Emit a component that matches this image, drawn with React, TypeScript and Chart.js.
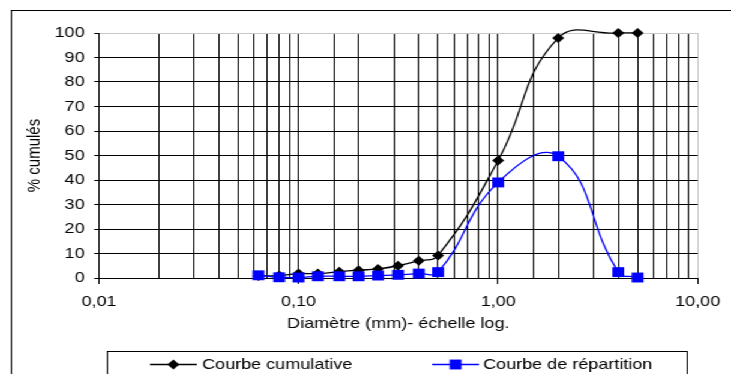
import React, { useEffect, useRef } from 'react';
import { Chart, registerables } from 'chart.js';

Chart.register(...registerables);

// ---- data ----
const diametres = [0.063, 0.08, 0.1, 0.125, 0.16, 0.2, 0.25, 0.315, 0.4, 0.5, 1, 2, 4, 5];
const cumulative = [0.8, 1, 1.8, 1.8, 2.6, 3.2, 3.7, 5, 7, 9.2, 48, 98, 100, 100];
const repartition = [1.1, 0.3, 0.2, 0.7, 0.7, 0.7, 1, 1.3, 1.8, 2.4, 39, 49.7, 2.4, 0.2];
const seriesNames = ['Courbe cumulative', 'Courbe de répartition'];
const xTitle = 'Diamètre (mm)- échelle log.';
const yTitle = '% cumulés';
const xMin = 0.01;
const xMax = 10;
const yMin = 0;
const yMax = 100;
const yStep = 10;

// ---- layout ----
const W = 731;
const H = 374;
const STRETCH = 1.2;
const CW = Math.round(W / STRETCH);
const FONT = '"Liberation Sans", Arial, sans-serif';

const isMajor = (v: number) => Math.abs(Math.log10(v) - Math.round(Math.log10(v))) < 1e-9;
const fmt = (v: number) => v.toFixed(2).replace('.', ',');

const framePlugin = {
  id: 'frameLegend',
  beforeDraw(chart: any) {
    const ctx = chart.ctx;
    ctx.save();
    ctx.strokeStyle = '#000';
    ctx.lineWidth = 1;
    ctx.strokeRect(9.5, 10.5, 1000, 1000);
    ctx.restore();
  },
  afterDraw(chart: any) {
    const ctx = chart.ctx;
    const ds = chart.data.datasets;
    ctx.save();
    ctx.fillStyle = '#fff';
    ctx.fillRect(89, 351, 484, 40);
    ctx.strokeStyle = '#000';
    ctx.lineWidth = 1;
    ctx.strokeRect(89.5, 351.5, 483, 40);
    const ly = 364.5;
    const items = [
      { x0: 125, x1: 164, px: 144.5, tx: 168.5 },
      { x0: 360, x1: 399, px: 379.5, tx: 402.5 },
    ];
    items.forEach((it, i) => {
      const d = ds[i];
      ctx.strokeStyle = d.borderColor;
      ctx.lineWidth = d.borderWidth;
      ctx.beginPath();
      ctx.moveTo(it.x0, ly);
      ctx.lineTo(it.x1, ly);
      ctx.stroke();
      ctx.fillStyle = d.pointBackgroundColor;
      ctx.beginPath();
      const r = d.pointRadius;
      if (d.pointStyle === 'rectRot') {
        ctx.moveTo(it.px - r, ly);
        ctx.lineTo(it.px, ly - r);
        ctx.lineTo(it.px + r, ly);
        ctx.lineTo(it.px, ly + r);
        ctx.closePath();
      } else {
        const s = r * Math.SQRT1_2;
        ctx.rect(it.px - s, ly - s, 2 * s, 2 * s);
      }
      ctx.fill();
      ctx.fillStyle = '#000';
      ctx.font = '15px ' + FONT;
      ctx.textBaseline = 'alphabetic';
      ctx.textAlign = 'left';
      ctx.fillText(d.label, it.tx, 369);
    });
    ctx.restore();
  },
};

export default function App() {
  const ref = useRef<HTMLCanvasElement>(null);

  useEffect(() => {
    if (!ref.current) return;
    Chart.defaults.font.family = FONT;
    const chart = new Chart(ref.current, {
      type: 'line',
      data: {
        datasets: [
          {
            label: seriesNames[0],
            data: diametres.map((x, i) => ({ x, y: cumulative[i] })),
            borderColor: '#000',
            backgroundColor: '#000',
            pointBackgroundColor: '#000',
            pointBorderColor: '#000',
            pointStyle: 'rectRot',
            pointRadius: 5,
            pointBorderWidth: 0,
            borderWidth: 1.3,
            tension: 0.45,
            fill: false,
            clip: false,
            order: 1,
          } as any,
          {
            label: seriesNames[1],
            data: diametres.map((x, i) => ({ x, y: repartition[i] })),
            borderColor: '#0000ff',
            backgroundColor: '#0000ff',
            pointBackgroundColor: '#0000ff',
            pointBorderColor: '#0000ff',
            pointStyle: 'rect',
            pointRadius: 7,
            pointBorderWidth: 0,
            borderWidth: 1.3,
            tension: 0.45,
            fill: false,
            clip: false,
            order: 0,
          } as any,
        ],
      },
      options: {
        animation: false,
        responsive: false,
        events: [],
        layout: { padding: { left: 0, right: CW - 584, top: 33, bottom: 0 } },
        elements: { line: { capBezierPoints: false } as any },
        plugins: {
          legend: { display: false },
          tooltip: { enabled: false },
        },
        scales: {
          x: {
            type: 'logarithmic',
            min: xMin,
            max: xMax,
            position: 'bottom',
            afterFit: (s: any) => {
              s.height = 96;
            },
            border: { display: true, color: '#000', width: 1 },
            grid: {
              color: (c: any) => (c.tick && Math.abs(c.tick.value - xMax) < 1e-9 ? '#c8c8c8' : '#000'),
              lineWidth: 1,
              drawTicks: true,
              tickLength: 6,
              tickColor: (c: any) => (c.tick && isMajor(c.tick.value) ? '#000' : 'rgba(0,0,0,0)'),
            },
            ticks: {
              autoSkip: false,
              maxRotation: 0,
              minRotation: 0,
              padding: 9,
              color: '#000',
              font: { size: 15 },
              callback: (v: any) => (isMajor(Number(v)) ? fmt(Number(v)) : ''),
            },
            title: {
              display: true,
              text: xTitle,
              color: '#000',
              font: { size: 15 },
              padding: { top: 0, bottom: 41 },
            },
          } as any,
          y: {
            min: yMin,
            max: yMax,
            afterFit: (s: any) => {
              s.width = 82.5;
            },
            border: { display: true, color: '#000', width: 1 },
            grid: {
              color: (c: any) => (c.tick && c.tick.value === yMax ? '#c8c8c8' : '#000'),
              lineWidth: 1,
              tickLength: 4,
              tickColor: '#000',
            },
            ticks: {
              stepSize: yStep,
              padding: 8,
              color: '#000',
              font: { size: 15 },
            },
            title: {
              display: true,
              text: yTitle,
              color: '#000',
              font: { size: 15 },
              padding: { top: 20, bottom: 0 },
            },
          } as any,
        },
      },
      plugins: [framePlugin],
    });
    return () => chart.destroy();
  }, []);

  return (
    <div
      style={{
        position: 'fixed',
        left: 0,
        top: 0,
        width: CW,
        height: H,
        transform: `scaleX(${W / CW})`,
        transformOrigin: '0 0',
        background: '#fff',
      }}
    >
      <canvas ref={ref} width={CW} height={H} style={{ width: CW, height: H, display: 'block' }} />
    </div>
  );
}
